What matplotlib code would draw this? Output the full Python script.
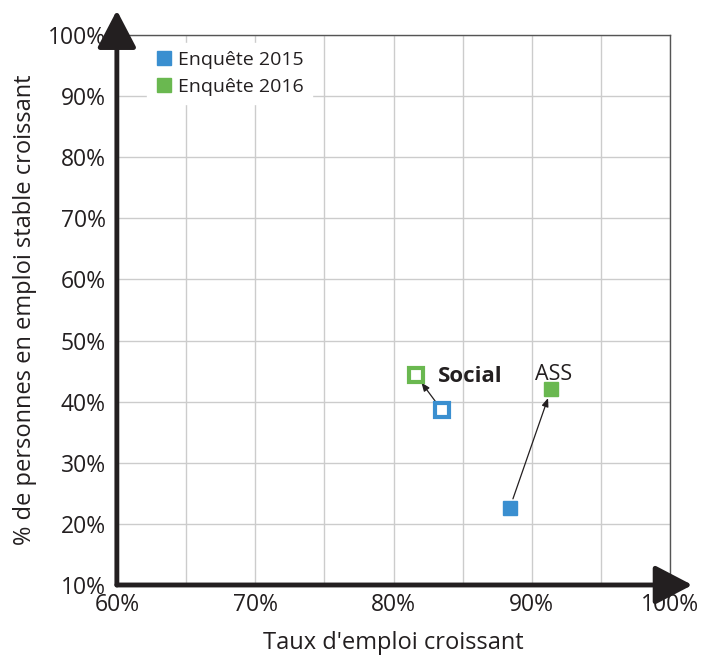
import matplotlib.pyplot as plt
from matplotlib.ticker import FuncFormatter, MultipleLocator
from matplotlib.lines import Line2D

plt.rcParams['font.family'] = ['Open Sans', 'DejaVu Sans']

# Données
groupes = ["Social", "ASS"]
emploi_2015 = [83.5, 88.4]
stable_2015 = [38.6, 22.6]
emploi_2016 = [81.6, 91.4]
stable_2016 = [44.4, 42.1]
pleins = [False, True]

bleu = '#3a8fd0'
vert = '#6ab850'
noir = '#231f20'

fig = plt.figure(figsize=(7.04, 6.57), dpi=100)
ax = fig.add_axes([0.166, 0.1096, 0.786, 0.837])
ax.set_xlim(60, 100)
ax.set_ylim(10, 100)

ax.xaxis.set_major_locator(MultipleLocator(10))
ax.xaxis.set_minor_locator(MultipleLocator(5))
ax.yaxis.set_major_locator(MultipleLocator(10))
pct = FuncFormatter(lambda v, p: f"{v:.0f}%")
ax.xaxis.set_major_formatter(pct)
ax.yaxis.set_major_formatter(pct)
ax.grid(True, which='both', color='#cccccc', lw=1)
ax.set_axisbelow(True)
ax.tick_params(which='both', length=0, labelsize=16.5, colors=noir, pad=8)
ax.tick_params(axis='x', pad=6)

for s in ['top', 'right']:
    ax.spines[s].set_color('#555555')
    ax.spines[s].set_linewidth(1)
for s in ['left', 'bottom']:
    ax.spines[s].set_visible(False)

# flèches des axes
style = dict(arrowstyle='-|>,head_length=2.3,head_width=1.2', lw=3.5, color=noir,
             shrinkA=0, shrinkB=0)
ax.annotate('', xy=(0, 1.045), xytext=(0, 0), xycoords='axes fraction',
            arrowprops=style, annotation_clip=False)
ax.annotate('', xy=(1.04, 0), xytext=(0, 0), xycoords='axes fraction',
            arrowprops=style, annotation_clip=False)

for i, g in enumerate(groupes):
    ax.annotate('', xy=(emploi_2016[i], stable_2016[i]),
                xytext=(emploi_2015[i], stable_2015[i]),
                arrowprops=dict(arrowstyle='-|>,head_length=0.5,head_width=0.2',
                                lw=0.9, color=noir, shrinkA=7, shrinkB=7))
    if pleins[i]:
        ax.plot(emploi_2015[i], stable_2015[i], 's', ms=10.5, color=bleu, zorder=3)
        ax.plot(emploi_2016[i], stable_2016[i], 's', ms=10.5, color=vert, zorder=3)
    else:
        ax.plot(emploi_2015[i], stable_2015[i], 's', ms=10.5, mfc='white', mec=bleu, mew=3, zorder=3)
        ax.plot(emploi_2016[i], stable_2016[i], 's', ms=10.5, mfc='white', mec=vert, mew=3, zorder=3)

ax.text(emploi_2016[0] + 1.6, stable_2016[0] - 0.3, groupes[0], fontsize=16, fontweight='bold',
        color=noir, va='center', ha='left')
ax.text(emploi_2016[1] + 0.2, stable_2016[1] + 2.4, groupes[1], fontsize=15.5,
        color=noir, va='center', ha='center')

handles = [Line2D([], [], ls='', marker='s', ms=10, color=bleu),
           Line2D([], [], ls='', marker='s', ms=10, color=vert)]
leg = ax.legend(handles, ['Enquête 2015', 'Enquête 2016'], loc='upper left',
                bbox_to_anchor=(0.055, 0.985), frameon=True, fancybox=False,
                edgecolor='white', framealpha=1, fontsize=14, handletextpad=0.3,
                handlelength=0.9, borderaxespad=0, labelspacing=0.45,
                borderpad=0.4)
for t in leg.get_texts():
    t.set_color(noir)

ax.set_xlabel("Taux d'emploi croissant", fontsize=17, color=noir, labelpad=10)
ax.set_ylabel("% de personnes en emploi stable croissant", fontsize=17,
              color=noir, labelpad=8)

fig.savefig('out.png', dpi=100)
